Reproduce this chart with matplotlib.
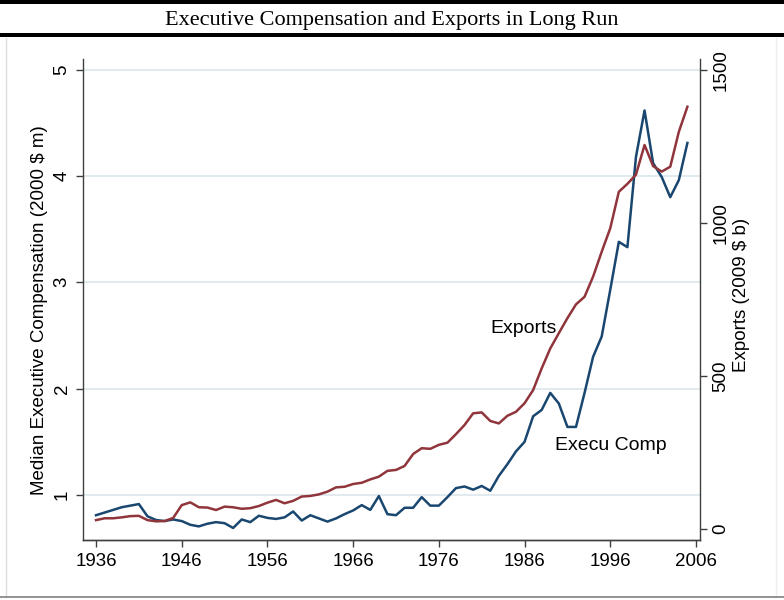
import numpy as np
import matplotlib.pyplot as plt
from matplotlib.patches import Rectangle
from matplotlib.lines import Line2D

# annual series, 1936-2005
years = np.arange(1936, 2006)
exec_comp = [0.81, 0.835, 0.86, 0.885, 0.90, 0.915, 0.80, 0.765, 0.755, 0.77,
             0.755, 0.72, 0.705, 0.73, 0.745, 0.735, 0.69, 0.77, 0.745, 0.805,
             0.785, 0.775, 0.79, 0.845, 0.76, 0.81, 0.78, 0.75, 0.78, 0.82,
             0.855, 0.905, 0.86, 0.99, 0.82, 0.81, 0.88, 0.88, 0.98, 0.90,
             0.90, 0.98, 1.065, 1.08, 1.05, 1.085, 1.04, 1.18, 1.29, 1.41,
             1.50, 1.74, 1.80, 1.96, 1.86, 1.64, 1.64, 1.96, 2.30, 2.49,
             2.93, 3.38, 3.33, 4.18, 4.615, 4.12, 3.99, 3.80, 3.96, 4.31]
exports = [29, 35, 35, 38, 42, 43, 29, 25, 26, 36,
           78, 87, 71, 70, 62, 73, 71, 66, 68, 75,
           86, 95, 84, 92, 106, 108, 113, 122, 136, 138,
           147, 151, 162, 171, 190, 193, 206, 245, 264, 262,
           275, 282, 310, 340, 378, 381, 353, 345, 370, 383,
           411, 454, 525, 590, 640, 689, 734, 759, 825, 906,
           983, 1102, 1128, 1158, 1255, 1186, 1168, 1184, 1298, 1380]

left_ticks = [1, 2, 3, 4, 5]
right_ticks = [0, 500, 1000, 1500]
x_ticks = [1936, 1946, 1956, 1966, 1976, 1986, 1996, 2006]

BLUE = "#1a476f"
RED = "#90353b"
AXC = "#404040"

plt.rcParams['font.family'] = ['Liberation Sans', 'DejaVu Sans']

fig = plt.figure(figsize=(7.84, 6.0), dpi=100)
ax = fig.add_axes([83/784, 60/600, 617/784, 481/600])
ax2 = ax.twinx()

ax.plot(years, exec_comp, color=BLUE, lw=1.8)
ax2.plot(years, exports, color=RED, lw=1.8)

ax.set_xlim(1934.48, 2006.47)
ax.set_ylim(0.577, 5.099)
ax2.set_ylim(-36, 1536)

ax.set_xticks(x_ticks)
ax.set_yticks(left_ticks)
ax2.set_yticks(right_ticks)
ax.grid(axis='y', color='#e1ebef', lw=1.4)
ax.set_axisbelow(True)

for a in (ax, ax2):
    a.spines['top'].set_visible(False)
    for s in a.spines.values():
        s.set_color(AXC)
        s.set_linewidth(1.0)
    a.tick_params(direction='out', length=5, width=1, color=AXC,
                  labelcolor='black', labelsize=13.5, pad=4)
ax.spines['right'].set_visible(False)
ax2.spines['left'].set_visible(False)

ax.tick_params(axis='y', labelrotation=90)
ax2.tick_params(axis='y', labelrotation=90)
for lab in ax.get_yticklabels() + ax2.get_yticklabels():
    lab.set_va('center')

ax.set_ylabel("Median Executive Compensation (2000 $ m)", fontsize=13.5)
ax.yaxis.set_label_coords(-0.056, 0.478)
ax2.set_ylabel("Exports (2009 $ b)", fontsize=13.5)
ax2.yaxis.set_label_coords(1.053, 0.51)

ax.text(1982.0, 2.565, "Exports", ha='left', va='center', fontsize=14)
ax.text(1989.6, 1.47, "Execu Comp", ha='left', va='center', fontsize=14)

# title band
fig.text(0.5, 1 - 21/600, "Executive Compensation and Exports in Long Run",
         ha='center', va='center', family='Liberation Serif', fontsize=16)
fig.add_artist(Rectangle((0, 1 - 4/600), 1, 4/600, transform=fig.transFigure,
                         facecolor='black', edgecolor='none'))
fig.add_artist(Rectangle((0, 1 - 37/600), 1, 4/600, transform=fig.transFigure,
                         facecolor='black', edgecolor='none'))
# faint frame round the plot region
fig.add_artist(Line2D([6/784, 6/784], [3/600, 1 - 38/600], transform=fig.transFigure,
                      color='#dddddd', lw=1))
fig.add_artist(Line2D([776/784, 776/784], [3/600, 1 - 38/600], transform=fig.transFigure,
                      color='#eeeeee', lw=1))
fig.add_artist(Line2D([0, 1], [3/600, 3/600], transform=fig.transFigure,
                      color='#808080', lw=1.2))

fig.savefig("out.png", dpi=100)
